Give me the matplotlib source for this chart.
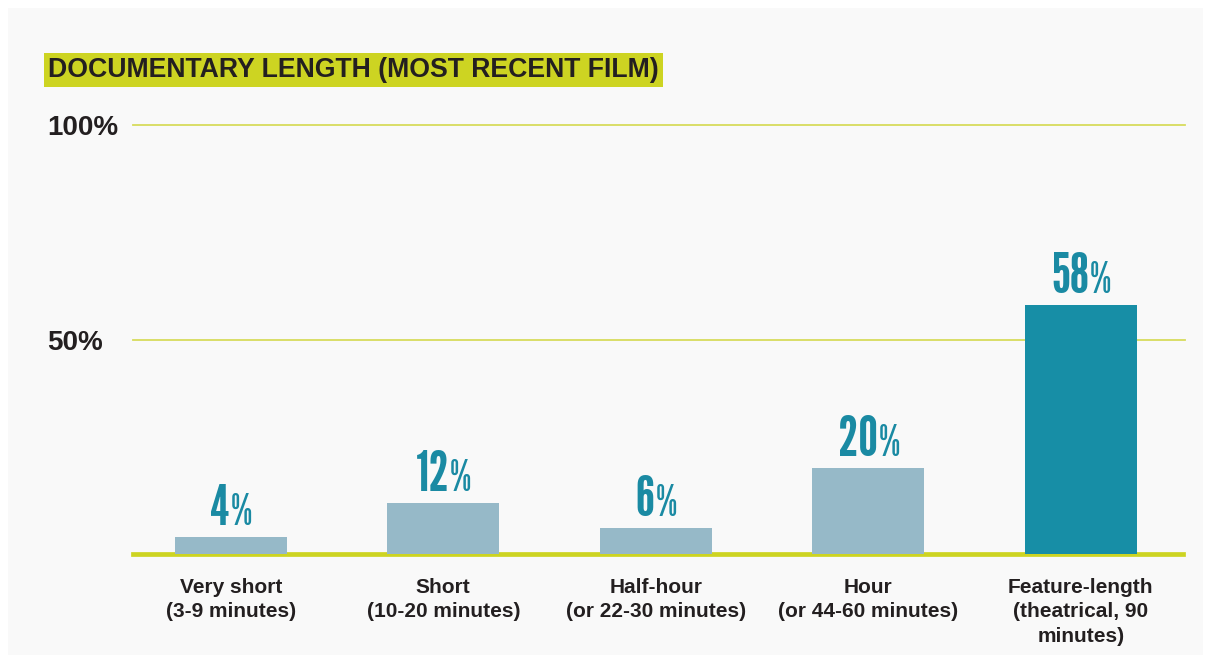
import matplotlib
matplotlib.use("Agg")
import matplotlib.pyplot as plt
from matplotlib import font_manager as fm
from matplotlib.patches import Rectangle

# data
categories = [
    "Very short\n(3-9 minutes)",
    "Short\n(10-20 minutes)",
    "Half-hour\n(or 22-30 minutes)",
    "Hour\n(or 44-60 minutes)",
    "Feature-length\n(theatrical, 90\nminutes)",
]
values = [4, 12, 6, 20, 58]
highlight = [False, False, False, False, True]
yticks = [50, 100]
ytick_labels = ["50%", "100%"]
title = "DOCUMENTARY LENGTH (MOST RECENT FILM)"

LIGHT = "#96b9c8"
DARK = "#178ea6"
LABEL = "#1a8aa3"
GREEN = "#cdd422"
GRID = "#d7dc5c"
TEXT = "#231f20"

_installed = {f.name for f in fm.fontManager.ttflist}


def pick(*names):
    for n in names:
        if n in _installed:
            return n
    return "DejaVu Sans"


SANS = pick("Liberation Sans", "Arimo")
GOTHIC = pick("League Gothic", "Oswald", "Bebas Neue", "Anton")

fig = plt.figure(figsize=(12.11, 6.63), dpi=100, facecolor="white")
fig.patches.append(Rectangle((8 / 1211, 8 / 663), 1195 / 1211, 647 / 663,
                             transform=fig.transFigure, facecolor="#f9f9f9",
                             edgecolor="none", zorder=-10))

ax = fig.add_axes([133 / 1211, 109 / 663, 1052 / 1211, 429 / 663])
ax.set_facecolor("none")
ax.set_zorder(1)

x = list(range(len(values)))
colors = [DARK if h else LIGHT for h in highlight]
ax.bar(x, values, width=0.527, color=colors, zorder=3)

# grid + baseline
for yv in yticks:
    ax.axhline(yv, color=GRID, linewidth=1.3, zorder=1, clip_on=False)
ax.axhline(0, xmax=0.998, color=GREEN, linewidth=3.4, zorder=2, clip_on=False)

ax.set_xlim(-0.46, 4.49)
ax.set_ylim(0, 100)
for s in ax.spines.values():
    s.set_visible(False)
ax.tick_params(length=0)

ax.set_yticks(yticks)
ax.set_yticklabels(ytick_labels, fontsize=20, fontweight="bold", color=TEXT,
                   family=[SANS, "DejaVu Sans"])
for lbl in ax.get_yticklabels():
    lbl.set_horizontalalignment("left")
    lbl.set_verticalalignment("center_baseline")
ax.tick_params(axis="y", pad=62)

ax.set_xticks(x)
ax.set_xticklabels(categories, fontsize=15, fontweight="bold", color=TEXT,
                   family=[SANS, "DejaVu Sans"], linespacing=1.38, va="top")
ax.tick_params(axis="x", pad=17)

# value labels: tall condensed number + thinner percent sign, centred as a pair
renderer = fig.canvas.get_renderer()
for xi, v in zip(x, values):
    num = ax.annotate(str(v), (xi, v), xytext=(0, 8.6), textcoords="offset points",
                      ha="right", va="baseline", fontsize=40,
                      color=LABEL, family=[GOTHIC, "DejaVu Sans"],
                      zorder=4, annotation_clip=False)
    pct = ax.annotate("%", (xi, v), xytext=(0, 8.6), textcoords="offset points",
                      ha="left", va="baseline", fontsize=31, fontweight="light",
                      color=LABEL, family=[GOTHIC, "DejaVu Sans"], zorder=4,
                      annotation_clip=False)
    wn = num.get_window_extent(renderer).width * 72 / fig.dpi
    wp = pct.get_window_extent(renderer).width * 72 / fig.dpi
    shift = (wn - wp) / 2
    num.xyann = (shift, 8.6)
    pct.xyann = (shift + 0.6, 8.6)

fig.text(48 / 1211, 1 - 70 / 663, title, fontsize=19.2, fontweight="bold",
         color=TEXT, family=[SANS, "DejaVu Sans"], va="center", ha="left",
         bbox=dict(boxstyle="square,pad=0.15", facecolor=GREEN,
                   edgecolor="none"))

plt.savefig("out.png", dpi=100, facecolor="white")
plt.close()
